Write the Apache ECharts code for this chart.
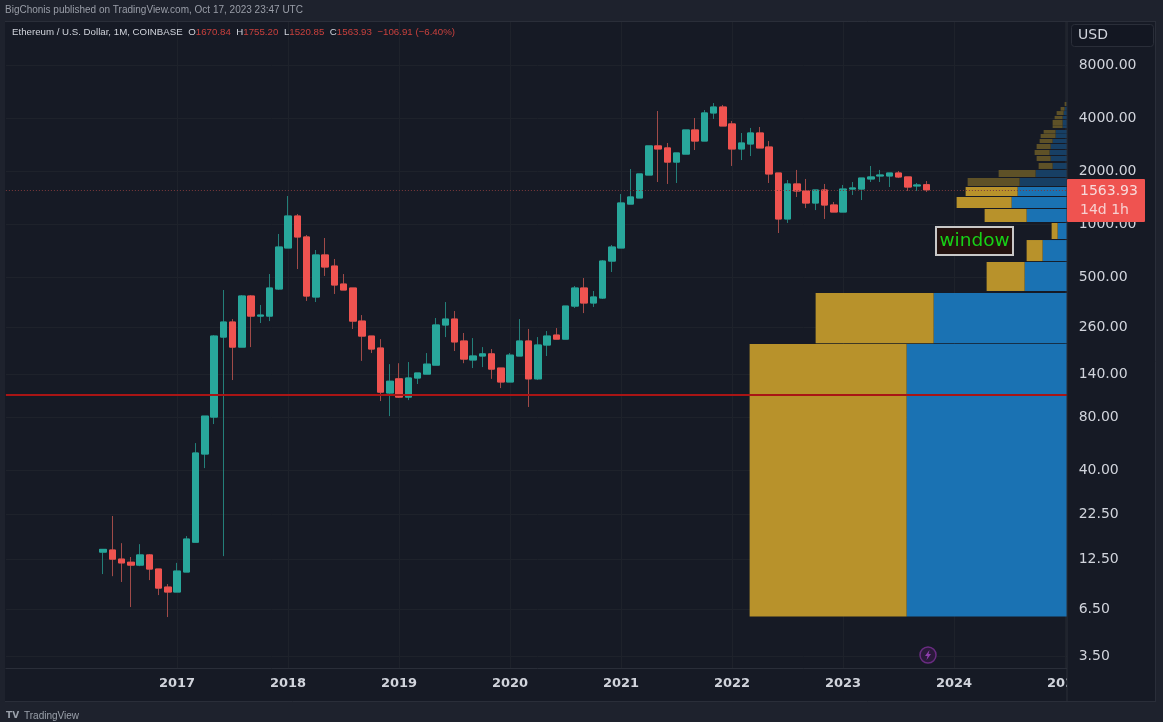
<!DOCTYPE html>
<html><head><meta charset="utf-8">
<style>html,body{margin:0;padding:0;background:#1e222d}#c{width:1163px;height:722px}</style>
<script src="https://cdn.jsdelivr.net/npm/echarts@6/dist/echarts.min.js"></script>
</head><body><div id="c"></div>
<script>
// Monthly candles, May 2016 .. Oct 2023
const opens=[13.7,14.08,12.5,12.0,11.56,13.2,10.98,8.67,8.13,10.56,15.6,49.4,80.1,228,277.5,200,390,300,300,427.5,731,1110,844,385,667,577,456,433,281,231,197.5,109.75,132,104,133.5,140.5,158,267,288.5,216.5,169,178,183,152,126.75,178,216.5,132,205.5,234,222,342,433,356,380,616,731,1298,1406,1898,2776,2704,2248,2496,3420,2960,4272,4616,3700,2668,2848,3288,2736,1948,1068,1688,1540,1316,1560,1282,1170,1580,1580,1802,1874,1874,1948,1850,1645,1670.84];
const highs=[14.25,21.97,15.4,12.85,15.2,13.36,11.0,9.02,11.9,16.9,57.0,81.1,234,422,288.5,395,395,347,520,878,1442,1140,866,712,833,633,520,433,304,231,222,160,162,164.5,142.5,185,292.5,360.5,320.5,240.5,225,200,195,152,185,288.5,253.5,228,246.75,256.5,342,444.5,493.5,416.5,624,760,1480,2052,1924,2776,4384,2884,2532,3420,4000,4440,4864,4744,3848,3288,3512,3556,2960,1948,1778,2028,1802,1560,1688,1334,1666,1732,1824,2136,2028,1948,2000,1850,1710,1755.2];
const lows=[10.28,10.0,9.27,6.68,11.4,9.5,7.81,5.86,8.13,10.56,15.6,41.1,73.1,13.0,130,200,200,274,281,422,731,555,365.5,360.5,507,400.5,422,253.5,167,185,98.75,81.1,102.75,100,123.4,140.5,158,228,190,162,152,154,132,117,126.75,178,91.4,130,178,222,222,333.5,312,338,375,534,731,1298,1406,1898,1732,1688,1710,2496,2632,2960,3948,3604,2136,2308,2432,2704,1710,889,1014,1424,1232,1200,1068,1170,1170,1462,1368,1732,1732,1622,1824,1540,1540,1520.85];
const closes=[14.2,12.5,11.9,11.56,13.2,10.98,8.56,8.13,10.69,16.25,50.06,81.1,231,277.5,200,390,300,304,433,740,1110,844,390,667,570,450.5,422,281,231,195,111,128,104,133.5,142.5,160,267,288.5,214,171,178,183,150,126.75,180,216.5,132,205.5,231,222,342,433,356,385,616,740,1316,1424,1924,2776,2668,2248,2532,3420,2960,4272,4616,3604,2668,2884,3288,2704,1924,1068,1688,1540,1316,1560,1282,1170,1580,1602,1824,1850,1898,1948,1850,1622,1666,1563.93];
const firstMonth=[2015,7];
const monthCount=115;
const leadEmpty=10;
const firstLabelYear=2017;
// Right-hand range profile
const bandLow=[5.9,210,416,616,822,1026,1233,1442,1644,1849,2054,2280,2466,2667,2884,3079,3260,3510,3650,3940,4160,4400,4680];
const bandHigh=[208,406,608,811,1013,1217,1423,1623,1825,2027,2221,2433,2632,2847,3040,3245,3420,3640,3900,4110,4380,4620,4930];
const bandBlue=[163,136,45,27,12,43,58,52,50,34,17,19,20,19,17,14,14,7,7,7,6,5,3];
const bandGold=[157,118,38,16,6,42,55,52,52,37,14,14,15,14,13,15,12,10,10,8,7,4,2];
const priceTicks=[8000,4000,2000,1000,500,260,140,80,40,22.5,12.5,6.5,3.5];
const lastClose=1563.93;
const supportLevel=107;

const months=[];
for(let i=0;i<monthCount;i++){
  const t=firstMonth[0]*12+firstMonth[1]-1+i;
  months.push(Math.floor(t/12)+'-'+String(t%12+1).padStart(2,'0'));
}
const lead=Array(leadEmpty).fill('-');
const candleWicks=lead.concat(opens.map((o,i)=>[o,closes[i],lows[i],highs[i]]));
const candleBodies=lead.concat(opens.map((o,i)=>[o,closes[i],Math.min(o,closes[i]),Math.max(o,closes[i])]));
const profile=bandLow.map((l,i)=>[l,bandHigh[i],bandBlue[i],bandGold[i]]);
const isYear=(i,v)=>v.endsWith('-01')&&+v.slice(0,4)>=firstLabelYear;
const C={bg:'#161a25',bar:'#1e222d',grid:'#1e222b',line:'#2a2e39',text:'#d1d4dc',up:'#28a79b',dn:'#ef5350',upW:'#237f79',dnW:'#a04a48'};
const F='"DejaVu Sans",sans-serif';
const logY={type:'log',logBase:2,min:3.01,max:14036,position:'right'};

const chart=echarts.init(document.getElementById('c'),null,{renderer:'canvas',width:1163,height:722});
chart.setOption({
 animation:false,
 backgroundColor:C.bar,
 grid:{left:5.875,top:22,width:1063.75,height:646,show:false},
 xAxis:[{
   type:'category',data:months,boundaryGap:true,z:0,
   axisLine:{show:true,lineStyle:{color:C.line}},
   axisTick:{show:false,alignWithLabel:true,interval:isYear},
   splitLine:{show:true,alignWithLabel:true,interval:isYear,lineStyle:{color:C.grid}},
   axisLabel:{interval:isYear,hideOverlap:false,showMaxLabel:true,formatter:v=>v.slice(0,4),color:C.text,fontFamily:F,fontWeight:'bold',fontSize:13,margin:9}
 },{
   type:'value',show:false,inverse:true,min:0,max:1063.75,gridIndex:0,position:'top',splitLine:{show:false}
 }],
 yAxis:[{
   ...logY,z:0,
   axisLine:{show:false},
   axisTick:{show:false,customValues:priceTicks},
   minorTick:{show:false},
   splitLine:{show:true,lineStyle:{color:C.grid}},
   axisLabel:{show:false}
 },{
   ...logY,z:10,
   axisLine:{show:false},
   axisTick:{show:false,customValues:priceTicks},
   minorTick:{show:false},
   splitLine:{show:false},
   axisLabel:{customValues:priceTicks,margin:9,padding:[2,0,0,0],color:C.text,fontFamily:F,fontSize:14,
     formatter:v=>Number(v).toFixed(2)}
 }],
 series:[{
   type:'custom',xAxisIndex:1,yAxisIndex:0,z:1,silent:true,clip:false,
   data:profile,
   renderItem:(p,api)=>{
     const low=api.value(0),high=api.value(1),blue=api.value(2),gold=api.value(3);
     const a=api.coord([0,low]),b=api.coord([blue,high]),c=api.coord([blue+gold,low]);
     const dim=low>lastClose;
     return {type:'group',children:[
       {type:'rect',shape:{x:b[0],y:b[1],width:a[0]-b[0],height:a[1]-b[1]},style:{fill:dim?'#173f64':'#1a72b3'}},
       {type:'rect',shape:{x:c[0],y:b[1],width:b[0]-c[0],height:a[1]-b[1]},style:{fill:dim?'#5e5127':'#b8922b'}}
     ]};
   }
 },{
   type:'candlestick',xAxisIndex:0,yAxisIndex:0,z:3,barWidth:7,
   data:candleWicks,
   itemStyle:{color:C.up,color0:C.dn,borderColor:C.upW,borderColor0:C.dnW,borderWidth:1},
   markLine:{silent:true,symbol:'none',animation:false,label:{show:false},data:[
     {yAxis:supportLevel,lineStyle:{color:'#a91515',width:2,type:'solid'}},
     {yAxis:lastClose,lineStyle:{color:'#7d3a3c',width:1,type:[1,2]}}
   ]}
 },{
   type:'candlestick',xAxisIndex:0,yAxisIndex:0,z:4,barWidth:7,
   data:candleBodies,
   itemStyle:{color:C.up,color0:C.dn,borderColor:C.up,borderColor0:C.dn,borderWidth:1}
 }],
 graphic:[
  {type:'rect',z:-1,shape:{x:5,y:21,width:1150,height:681},style:{fill:C.bg}},
  {type:'rect',z:6,shape:{x:1067,y:21,width:88,height:681},style:{fill:C.bg}},
  {type:'line',z:7,shape:{x1:1067,y1:21,x2:1067,y2:702},style:{stroke:C.line,lineWidth:1}},
  {type:'line',z:7,shape:{x1:5,y1:701.5,x2:1155,y2:701.5},style:{stroke:C.line,lineWidth:1}},
  {type:'line',z:7,shape:{x1:1155.5,y1:21,x2:1155.5,y2:702},style:{stroke:C.line,lineWidth:1}},
  {type:'line',z:7,shape:{x1:5,y1:21.5,x2:1155,y2:21.5},style:{stroke:C.line,lineWidth:1}},
  {type:'text',z:20,x:5,y:5,style:{text:'BigChonis published on TradingView.com, Oct 17, 2023 23:47 UTC',fill:'#9a9ea8',font:'10px "Liberation Sans",sans-serif'}},
  {type:'text',z:20,x:12,y:27,style:{
    text:'{n|Ethereum / U.S. Dollar, 1M, COINBASE}  {k|O}{v|1670.84}  {k|H}{v|1755.20}  {k|L}{v|1520.85}  {k|C}{v|1563.93}  {v|\u2212106.91 (\u22126.40%)}',
    font:'10px "Liberation Sans",sans-serif',
    rich:{n:{fill:'#d1d4dc',font:'9.7px "Liberation Sans",sans-serif'},k:{fill:'#d1d4dc',font:'9.7px "Liberation Sans",sans-serif'},v:{fill:'#c8403d',font:'9.7px "Liberation Sans",sans-serif'}}
  }},
  {type:'rect',z:20,shape:{x:1071.5,y:24.5,width:82,height:22,r:3},style:{fill:'#131722',stroke:C.line,lineWidth:1}},
  {type:'text',z:21,x:1078,y:28,style:{text:'USD',fill:C.text,font:'14px "DejaVu Sans",sans-serif'}},
  {type:'rect',z:20,shape:{x:1067,y:179,width:78,height:43,r:1},style:{fill:'#ef5350'}},
  {type:'text',z:21,x:1080,y:184,style:{text:'1563.93',fill:'#f7dada',font:'14px "DejaVu Sans",sans-serif'}},
  {type:'text',z:21,x:1080,y:203,style:{text:'14d 1h',fill:'#f7d0d0',font:'14px "DejaVu Sans",sans-serif'}},
  {type:'rect',z:20,shape:{x:936,y:227,width:77,height:28},style:{fill:'#23120f',stroke:'#c8c8c8',lineWidth:2}},
  {type:'text',z:21,x:974.5,y:241,style:{text:'window',fill:'#17d017',font:'18.5px "DejaVu Sans",sans-serif',textAlign:'center',textVerticalAlign:'middle'}},
  {type:'circle',z:20,shape:{cx:928,cy:655,r:8},style:{fill:'#2a1a3a',stroke:'#6a2c82',lineWidth:1.5}},
  {type:'polygon',z:21,shape:{points:[[929.5,650],[925,656],[927.5,656],[926.5,660],[931,654],[928.5,654]]},style:{fill:'#8f3fae'}},
  {type:'text',z:20,x:6,y:711,style:{text:'TV',fill:'#9aa0aa',font:'bold 9px "DejaVu Sans",sans-serif'}},
  {type:'text',z:20,x:24,y:711,style:{text:'TradingView',fill:'#9aa0aa',font:'10px "Liberation Sans",sans-serif'}}
 ]
});
</script></body></html>
